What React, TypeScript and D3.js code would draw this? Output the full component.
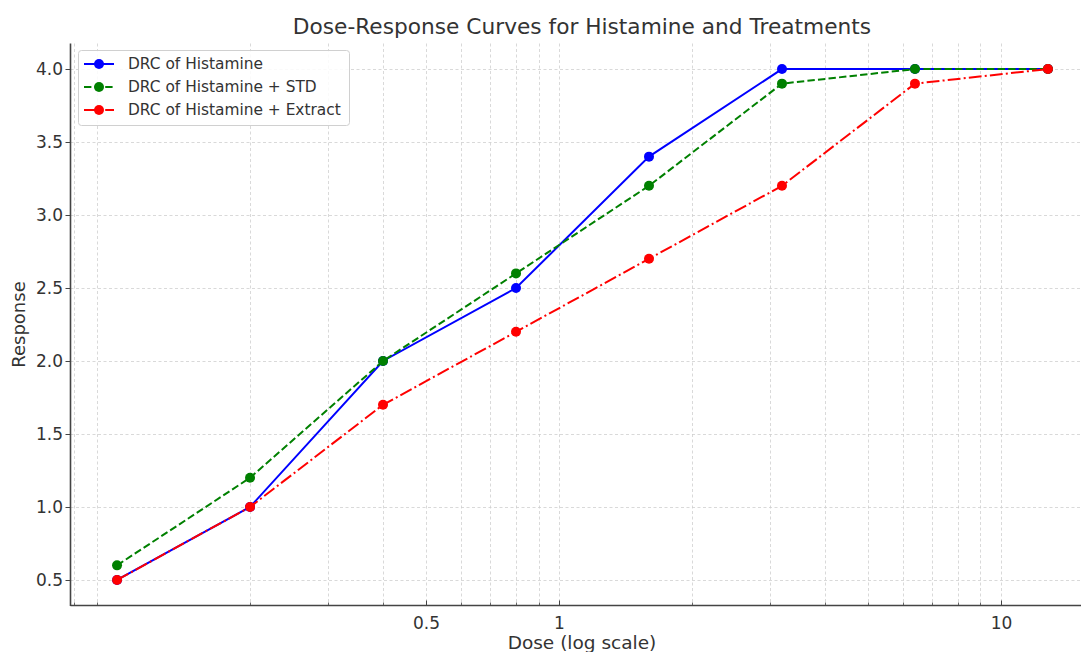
import React, { useEffect, useRef } from 'react';
import * as d3 from 'd3';

// --- data ---
const doses = [0.1, 0.2, 0.4, 0.8, 1.6, 3.2, 6.4, 12.8];
const histamine = [0.5, 1.0, 2.0, 2.5, 3.4, 4.0, 4.0, 4.0];
const histamineStd = [0.6, 1.2, 2.0, 2.6, 3.2, 3.9, 4.0, 4.0];
const histamineExtract = [0.5, 1.0, 1.7, 2.2, 2.7, 3.2, 3.9, 4.0];
const seriesNames = ['DRC of Histamine', 'DRC of Histamine + STD', 'DRC of Histamine + Extract'];
const yTicks = [0.5, 1.0, 1.5, 2.0, 2.5, 3.0, 3.5, 4.0];
const xMajorTicks = [0.5, 1, 10];
const xMinorTicks = [0.08, 0.09, 0.2, 0.3, 0.4, 0.6, 0.7, 0.8, 0.9, 2, 3, 4, 5, 6, 7, 8, 9];

const W = 1081;
const H = 652;
const FONT = 'DejaVu Sans, sans-serif';
const TEXT = '#333333';

const App = () => {
  const ref = useRef<SVGSVGElement | null>(null);

  useEffect(() => {
    if (!ref.current) return;
    const svg = d3.select(ref.current);
    svg.selectAll('*').remove();

    const left = 70.5, right = 1094.5, top = 43.5, bottom = 605.5;

    // matplotlib-like 5% margins (in log space for x)
    const lx = d3.extent(doses.map(Math.log10)) as [number, number];
    const mx = (lx[1] - lx[0]) * 0.05;
    const x = d3.scaleLog().domain([10 ** (lx[0] - mx), 10 ** (lx[1] + mx)]).range([left, right]);
    const all = [...histamine, ...histamineStd, ...histamineExtract];
    const ye = [d3.min(all)!, d3.max(all)!];
    const my = (ye[1] - ye[0]) * 0.05;
    const y = d3.scaleLinear().domain([ye[0] - my, ye[1] + my]).range([bottom, top]);

    // grid
    const grid = svg.append('g').attr('stroke', '#cfcfcf').attr('stroke-width', 0.8).attr('stroke-dasharray', '3,2.5');
    [...xMajorTicks, ...xMinorTicks].forEach(t => {
      const px = Math.round(x(t)) + 0.5;
      grid.append('line').attr('x1', px).attr('x2', px).attr('y1', top).attr('y2', bottom);
    });
    yTicks.forEach(t => {
      const py = Math.round(y(t)) + 0.5;
      grid.append('line').attr('x1', left).attr('x2', W).attr('y1', py).attr('y2', py);
    });

    // spines
    svg.append('line').attr('x1', left).attr('x2', left).attr('y1', top).attr('y2', bottom + 0.5).attr('stroke', '#444').attr('stroke-width', 1.6);
    svg.append('line').attr('x1', left).attr('x2', W).attr('y1', bottom).attr('y2', bottom).attr('stroke', '#444').attr('stroke-width', 1.6);

    // x ticks (inward)
    xMajorTicks.forEach(t => {
      const px = Math.round(x(t)) + 0.5;
      svg.append('line').attr('x1', px).attr('x2', px).attr('y1', bottom).attr('y2', bottom - 5).attr('stroke', '#444').attr('stroke-width', 1);
      svg.append('text').attr('x', px).attr('y', bottom + 23).attr('text-anchor', 'middle')
        .attr('font-family', FONT).attr('font-size', 17).attr('fill', TEXT).text(String(t));
    });
    xMinorTicks.forEach(t => {
      const px = Math.round(x(t)) + 0.5;
      svg.append('line').attr('x1', px).attr('x2', px).attr('y1', bottom).attr('y2', bottom - 3).attr('stroke', '#444').attr('stroke-width', 0.8);
    });

    // y ticks (outward)
    yTicks.forEach(t => {
      const py = Math.round(y(t)) + 0.5;
      svg.append('line').attr('x1', left).attr('x2', left - 5).attr('y1', py).attr('y2', py).attr('stroke', '#444').attr('stroke-width', 1);
      svg.append('text').attr('x', left - 7.5).attr('y', py).attr('dy', '0.35em').attr('text-anchor', 'end')
        .attr('font-family', FONT).attr('font-size', 17).attr('fill', TEXT).text(t.toFixed(1));
    });

    // labels
    svg.append('text').attr('x', 582).attr('y', 34).attr('text-anchor', 'middle')
      .attr('font-family', FONT).attr('font-size', 21.7).attr('fill', TEXT).text('Dose-Response Curves for Histamine and Treatments');
    svg.append('text').attr('x', 582).attr('y', 649).attr('text-anchor', 'middle')
      .attr('font-family', FONT).attr('font-size', 18.5).attr('fill', TEXT).text('Dose (log scale)');
    svg.append('text').attr('transform', `translate(25,${(top + bottom) / 2}) rotate(-90)`).attr('text-anchor', 'middle')
      .attr('font-family', FONT).attr('font-size', 18).attr('fill', TEXT).text('Response');

    // series
    const series = [
      { name: seriesNames[0], values: histamine, color: '#0000ff', dash: null as string | null },
      { name: seriesNames[1], values: histamineStd, color: '#008000', dash: '7.4,3.2' },
      { name: seriesNames[2], values: histamineExtract, color: '#ff0000', dash: '12.8,3.2,2,3.2' },
    ];
    const line = d3.line<number>().x((_, i) => x(doses[i])).y(d => y(d));
    series.forEach(s => {
      svg.append('path').datum(s.values).attr('d', line).attr('fill', 'none')
        .attr('stroke', s.color).attr('stroke-width', 2).attr('stroke-dasharray', s.dash);
      svg.append('g').selectAll('circle').data(s.values).enter().append('circle')
        .attr('cx', (_, i) => x(doses[i])).attr('cy', d => y(d)).attr('r', 5).attr('fill', s.color);
    });

    // legend
    const lg = svg.append('g').attr('transform', 'translate(78,50)');
    lg.append('rect').attr('x', 0.5).attr('y', 0.5).attr('width', 271).attr('height', 75).attr('rx', 3)
      .attr('fill', 'white').attr('fill-opacity', 0.85).attr('stroke', '#d0d0d0');
    series.forEach((s, i) => {
      const ly = 14 + i * 23;
      lg.append('line').attr('x1', 6).attr('x2', 36).attr('y1', ly).attr('y2', ly)
        .attr('stroke', s.color).attr('stroke-width', 2).attr('stroke-dasharray', s.dash);
      lg.append('circle').attr('cx', 21).attr('cy', ly).attr('r', 5).attr('fill', s.color);
      lg.append('text').attr('x', 50).attr('y', ly).attr('dy', '0.35em').attr('font-family', FONT)
        .attr('font-size', 15.4).attr('fill', TEXT).text(s.name);
    });
  }, []);

  return (
    <svg ref={ref} width={W} height={H} style={{ position: 'absolute', left: 0, top: 0, background: 'white' }} />
  );
};

export default App;
